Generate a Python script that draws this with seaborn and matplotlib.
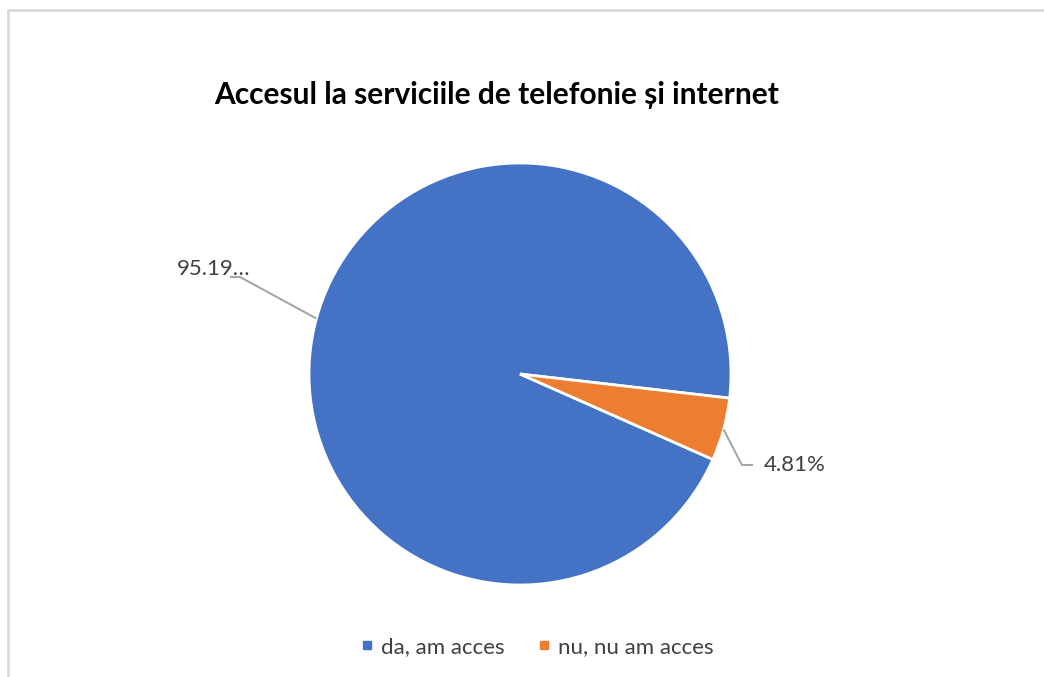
import matplotlib
matplotlib.use("Agg")
import matplotlib.pyplot as plt
from matplotlib.lines import Line2D
import numpy as np
import seaborn as sns

# chart data
categories = ["da, am acces", "nu, nu am acces"]
shares = [95.19, 4.81]
label_texts = ["95.19…", "4.81%"]
colors = ["#4472C4", "#ED7D31"]
title = "Accesul la serviciile de telefonie și internet"

sns.set_theme(style="white")
plt.rcParams["font.family"] = ["Lato", "DejaVu Sans"]

W, H = 1044, 677
fig = plt.figure(figsize=(W / 100, H / 100), dpi=100)
# axes in pixel units, y measured from bottom
ax = fig.add_axes([0, 0, 1, 1])

cx, cy, r = 520, H - 374, 211
wedges, _ = ax.pie(shares, colors=colors, startangle=-23.9, counterclock=False,
                   center=(cx, cy), radius=r, frame=True,
                   wedgeprops=dict(edgecolor="white", linewidth=2))
ax.set_xlim(0, W)
ax.set_ylim(0, H)
ax.set_aspect("equal")
ax.axis("off")

# data labels with leader lines (elbow, end, text position) in pixels from top
leaders = [
    ((240, 277), (230, 277), (214, 269), "center"),
    ((742, 465), (753, 465), (764, 465), "left"),
]
for w, txt, (elb, end, tpos, ha) in zip(wedges, label_texts, leaders):
    mid = np.deg2rad((w.theta1 + w.theta2) / 2)
    sx, sy = cx + r * np.cos(mid), cy + r * np.sin(mid)
    ax.plot([sx, elb[0], end[0]], [sy, H - elb[1], H - end[1]],
            color="#A6A6A6", lw=1.5, solid_capstyle="butt")
    ax.text(tpos[0], H - tpos[1], txt, ha=ha, va="center",
            fontsize=16, color="#404040")

ax.text(497, H - 95, title, ha="center", va="center",
        fontsize=21.5, fontweight="bold", color="black")

handles = [Line2D([], [], marker="s", ls="", color=c, markersize=6) for c in colors]
ax.legend(handles, categories, loc="center", bbox_to_anchor=(537, H - 647),
          bbox_transform=ax.transData, ncol=2, frameon=False, fontsize=16,
          labelcolor="#404040", handletextpad=0.3, columnspacing=1.5,
          handlelength=0.6)

# chart frame (only top and left edges visible)
ax.plot([8, 8], [H - 10, 0], color="#D9D9D9", lw=2)
ax.plot([8, W], [H - 10, H - 10], color="#D9D9D9", lw=2)

fig.savefig("out.png", dpi=100)
